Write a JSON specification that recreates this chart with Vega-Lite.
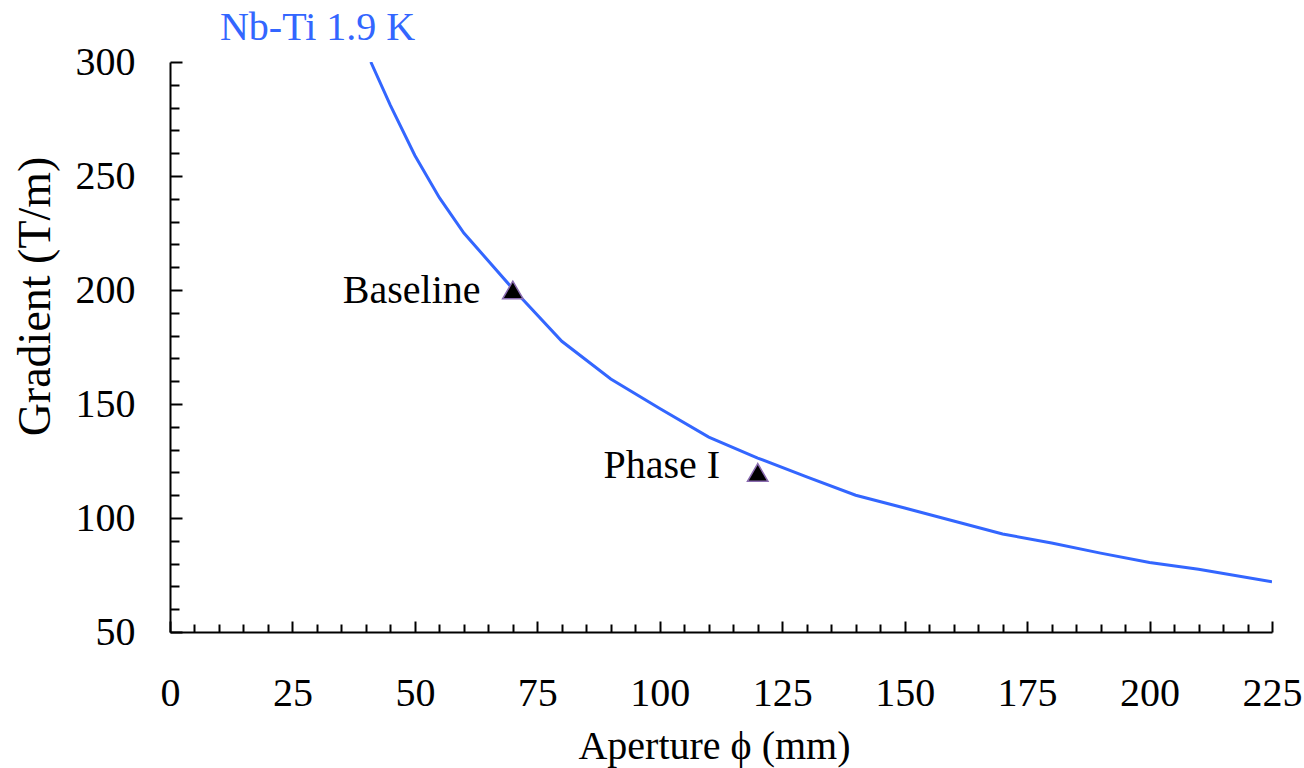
{
  "$schema": "https://vega.github.io/schema/vega-lite/v6.json",
  "width": 1102,
  "height": 570,
  "autosize": {"type": "none"},
  "padding": {"left": 170, "top": 62, "right": 32, "bottom": 136},
  "background": "white",
  "config": {
    "view": {"stroke": null},
    "font": "Liberation Serif, Times New Roman, Times, serif",
    "text": {"font": "Liberation Serif, Times New Roman, Times, serif"},
    "axis": {
      "grid": false,
      "domainColor": "black",
      "domainWidth": 2,
      "tickColor": "black",
      "tickWidth": 2,
      "labelFont": "Liberation Serif, Times New Roman, Times, serif",
      "labelFontSize": 40,
      "labelColor": "black",
      "titleFont": "Liberation Serif, Times New Roman, Times, serif",
      "titleFontSize": 40,
      "titleFontWeight": "normal",
      "titleColor": "black"
    }
  },
  "datasets": {
    "curve": [
      {"aperture": 41, "gradient": 300},
      {"aperture": 45, "gradient": 281},
      {"aperture": 50, "gradient": 259},
      {"aperture": 55, "gradient": 240.5},
      {"aperture": 60, "gradient": 225},
      {"aperture": 70, "gradient": 200.5},
      {"aperture": 80, "gradient": 177.5},
      {"aperture": 90, "gradient": 161},
      {"aperture": 100, "gradient": 148},
      {"aperture": 110, "gradient": 135.5},
      {"aperture": 120, "gradient": 126.3},
      {"aperture": 130, "gradient": 118},
      {"aperture": 140, "gradient": 110},
      {"aperture": 150, "gradient": 104.4},
      {"aperture": 160, "gradient": 98.7},
      {"aperture": 170, "gradient": 93},
      {"aperture": 180, "gradient": 89},
      {"aperture": 190, "gradient": 84.6},
      {"aperture": 200, "gradient": 80.5},
      {"aperture": 210, "gradient": 77.5},
      {"aperture": 225, "gradient": 72}
    ],
    "designs": [
      {"aperture": 70, "gradient": 200, "name": "Baseline"},
      {"aperture": 120, "gradient": 120, "name": "Phase I"}
    ],
    "labels": [
      {"aperture": 63.4, "gradient": 199.5, "text": "Baseline", "color": "black"},
      {"aperture": 112.3, "gradient": 122.8, "text": "Phase I", "color": "black"},
      {"aperture": 10.2, "gradient": 309.6, "text": "Nb-Ti 1.9 K", "color": "#3366ff"}
    ]
  },
  "encoding": {
    "x": {
      "field": "aperture",
      "type": "quantitative",
      "scale": {"domain": [0, 225], "nice": false},
      "axis": {
        "title": "Aperture \u03d5 (mm)",
        "values": [0,5,10,15,20,25,30,35,40,45,50,55,60,65,70,75,80,85,90,95,100,105,110,115,120,125,130,135,140,145,150,155,160,165,170,175,180,185,190,195,200,205,210,215,220,225],
        "labelExpr": "datum.value % 25 === 0 ? datum.label : ''",
        "tickSize": {"condition": {"test": "datum.value % 25 === 0", "value": -11}, "value": -8},
        "labelPadding": 52,
        "labelFlush": false,
        "labelOverlap": false,
        "titleX": 544,
        "titleY": 126,
        "titleBaseline": "alphabetic",
        "titleAnchor": null
      }
    },
    "y": {
      "field": "gradient",
      "type": "quantitative",
      "scale": {"domain": [50, 300], "nice": false, "zero": false},
      "axis": {
        "title": "Gradient (T/m)",
        "titleFontSize": 46,
        "values": [50,60,70,80,90,100,110,120,130,140,150,160,170,180,190,200,210,220,230,240,250,260,270,280,290,300],
        "labelExpr": "datum.value % 50 === 0 ? datum.label : ''",
        "tickSize": {"condition": {"test": "datum.value % 50 === 0", "value": -12}, "value": -9},
        "labelPadding": 47,
        "labelFlush": false,
        "labelOverlap": false,
        "titleX": -121,
        "titleY": 234,
        "titleBaseline": "alphabetic",
        "titleAnchor": null
      }
    }
  },
  "layer": [
    {
      "data": {"name": "curve"},
      "mark": {"type": "line", "color": "#3366ff", "strokeWidth": 3, "clip": true}
    },
    {
      "data": {"name": "designs"},
      "mark": {"type": "point", "shape": "triangle-up", "filled": true, "fill": "black", "stroke": "#8a6bb0", "strokeWidth": 1.5, "opacity": 1, "size": 420}
    },
    {
      "data": {"name": "labels"},
      "mark": {"type": "text", "fontSize": 40, "align": "left", "baseline": "alphabetic"},
      "transform": [{"filter": "datum.color != 'black'"}],
      "encoding": {
        "text": {"field": "text"},
        "color": {"field": "color", "type": "nominal", "scale": null}
      }
    },
    {
      "data": {"name": "labels"},
      "mark": {"type": "text", "fontSize": 40, "align": "right", "baseline": "middle"},
      "transform": [{"filter": "datum.color == 'black'"}],
      "encoding": {
        "text": {"field": "text"},
        "color": {"field": "color", "type": "nominal", "scale": null}
      }
    }
  ]
}
